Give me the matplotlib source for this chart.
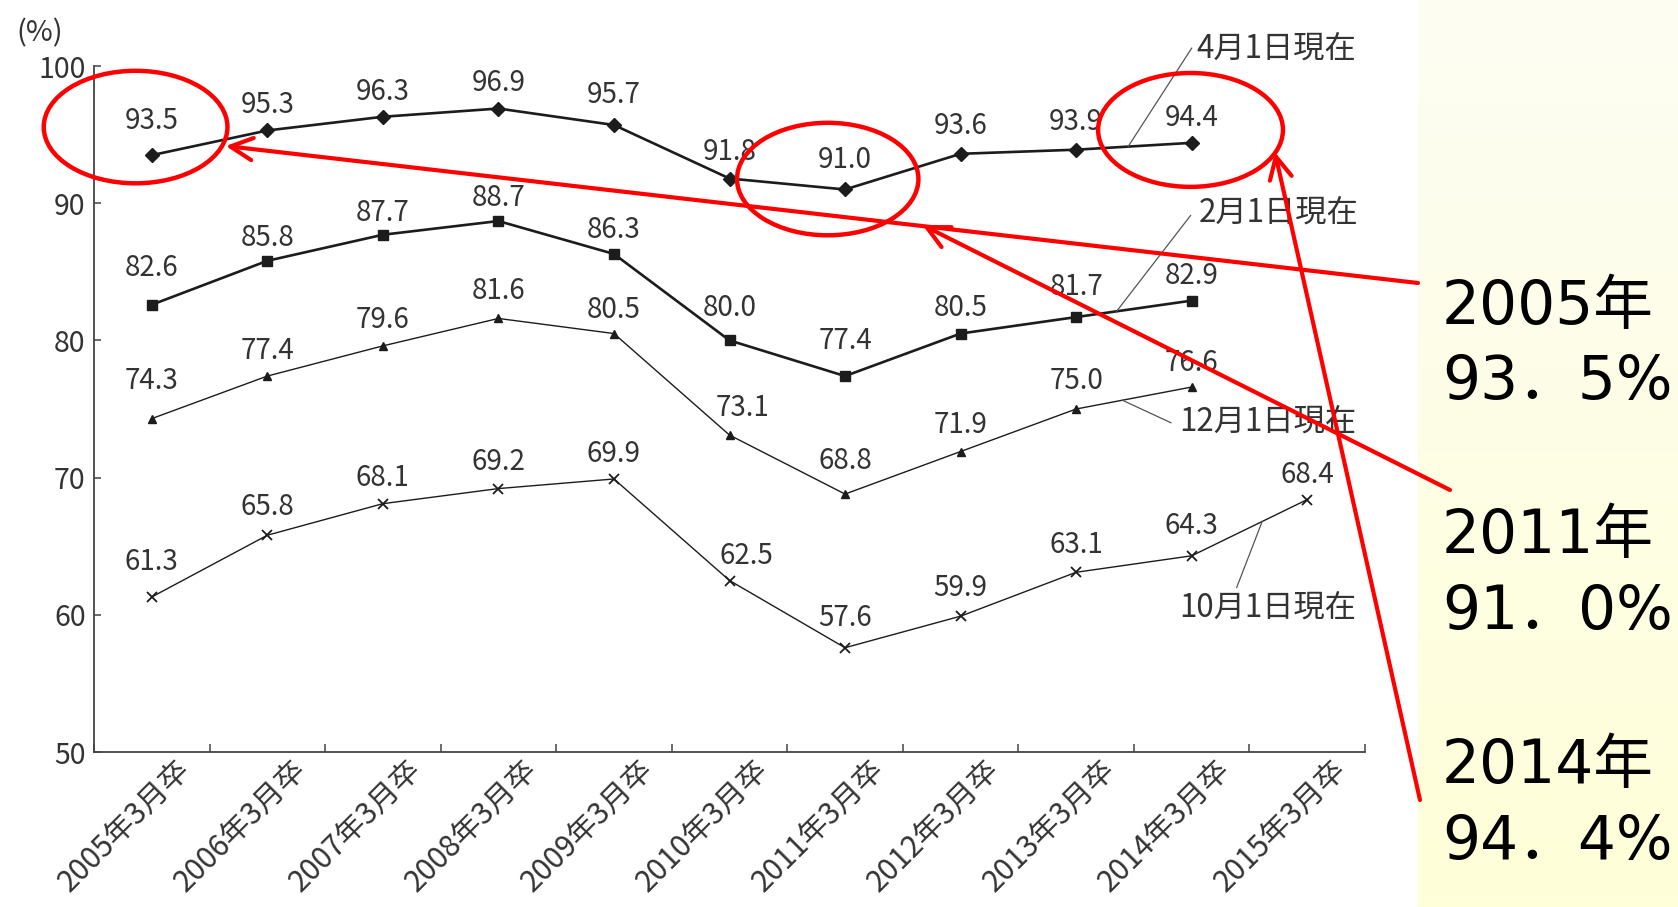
import numpy as np
import matplotlib
matplotlib.use("Agg")
import matplotlib.pyplot as plt
from matplotlib import font_manager
from matplotlib.patches import Ellipse
from matplotlib.transforms import ScaledTranslation

plt.rcParams['font.family'] = ['Noto Sans CJK JP', 'DejaVu Sans']

# ---- data ----
grad_years = ['2005年3月卒', '2006年3月卒', '2007年3月卒', '2008年3月卒',
              '2009年3月卒', '2010年3月卒', '2011年3月卒', '2012年3月卒',
              '2013年3月卒', '2014年3月卒', '2015年3月卒']
rate_apr = [93.5, 95.3, 96.3, 96.9, 95.7, 91.8, 91.0, 93.6, 93.9, 94.4]
rate_feb = [82.6, 85.8, 87.7, 88.7, 86.3, 80.0, 77.4, 80.5, 81.7, 82.9]
rate_dec = [74.3, 77.4, 79.6, 81.6, 80.5, 73.1, 68.8, 71.9, 75.0, 76.6]
rate_oct = [61.3, 65.8, 68.1, 69.2, 69.9, 62.5, 57.6, 59.9, 63.1, 64.3, 68.4]
series_names = ['4月1日現在', '2月1日現在', '12月1日現在', '10月1日現在']
y_ticks = [50, 60, 70, 80, 90, 100]
highlight_idx = [0, 6, 9]          # 2005, 2011, 2014 in the April series
highlight_years = ['2005年', '2011年', '2014年']

# ---- fonts ----
installed = {f.name for f in font_manager.fontManager.ttflist}
narrow_ok = 'Liberation Sans Narrow' in installed
if narrow_ok:
    chart_font = ['Liberation Sans Narrow', 'Noto Sans CJK JP']
    fs_value, fs_xtick, fs_name = 22.5, 23, 24
else:
    chart_font = ['Noto Sans CJK JP', 'DejaVu Sans']
    fs_value, fs_xtick, fs_name = 20, 21.5, 22.5

# ---- styling / placement ----
W, H = 1678, 907
INK = '#1c1c1c'
TXT = '#333333'
RED = '#ff0000'

series = [rate_apr, rate_feb, rate_dec, rate_oct]
styles = [dict(marker='D', ms=7.5, lw=1.9),
          dict(marker='s', ms=6.5, lw=1.9),
          dict(marker='^', ms=5.5, lw=1.0),
          dict(marker='x', ms=7, lw=1.0, mew=1.3)]
# vertical distance (px) of each value label above its point
label_rise = [
    [34, 25, 25, 26, 30, 27, 29, 28, 28, 25],
    [37, 23, 22, 23, 24, 32, 35, 26, 30, 25],
    [38, 25, 26, 27, 24, 27, 33, 27, 28, 24],
    [35, 28, 26, 27, 25, 25, 30, 28, 27, 30, 25],
]
label_shift = {(2, 5): 13, (3, 5): 17}

fig = plt.figure(figsize=(W / 100, H / 100), dpi=100)

# pale yellow panel on the right
pan = fig.add_axes([1418 / W, 0, 1 - 1418 / W, 1], zorder=0)
grad = np.linspace(0, 1, 256)[:, None]
top = np.array([253, 253, 243]) / 255
bot = np.array([255, 255, 216]) / 255
img = top[None, None, :] * (1 - grad[:, :, None]) + bot[None, None, :] * grad[:, :, None]
pan.imshow(img, aspect='auto', extent=[0, 1, 0, 1], origin='upper')
pan.set_axis_off()

ax = fig.add_axes([94 / W, (H - 752) / H, (1365 - 94) / W, (752 - 66) / H], zorder=1)
ax.set_facecolor('none')
ax.set_xlim(-0.5, 10.5)
ax.set_ylim(50, 100)

for vals, st in zip(series, styles):
    x = np.arange(len(vals))
    ax.plot(x, vals, color=INK, mec=INK, mfc=INK, clip_on=False, **st)

# value labels
for s, vals in enumerate(series):
    for i, v in enumerate(vals):
        dx = label_shift.get((s, i), 0)
        ax.annotate(f'{v:.1f}', (i, v), xytext=(dx * 0.72, label_rise[s][i] * 0.72),
                    textcoords='offset points', ha='center', va='center',
                    fontsize=fs_value, color=TXT, family=chart_font,
                    annotation_clip=False)

# axes frame
for side in ['top', 'right']:
    ax.spines[side].set_visible(False)
for side in ['left', 'bottom']:
    ax.spines[side].set_color('#444444')
    ax.spines[side].set_linewidth(1.3)

ax.set_yticks(y_ticks)
ax.set_yticklabels([str(t) for t in y_ticks])
ax.tick_params(axis='y', direction='in', length=5, width=1.1, color='#444444',
               labelsize=20.5, labelcolor=TXT, pad=6)

ax.set_xticks(np.arange(len(grad_years)))
ax.set_xticklabels(grad_years, rotation=45, ha='right', va='top',
                   rotation_mode='anchor', family=chart_font)
ax.set_xticks(np.arange(len(grad_years) + 1) - 0.5, minor=True)
ax.tick_params(axis='x', which='major', length=0, labelsize=fs_xtick,
               labelcolor=TXT, pad=2)
ax.tick_params(axis='x', which='minor', direction='in', length=6, width=1.1,
               color='#444444')
shift = ScaledTranslation(24 / 100, 0, fig.dpi_scale_trans)
for lbl in ax.get_xticklabels():
    lbl.set_transform(lbl.get_transform() + shift)

fig.text(40 / W, 1 - 33 / H, '(%)', ha='center', va='center', fontsize=21, color=TXT)

# series name leaders: (x on the line, end x, end y, text x, text y)
leaders = [
    (8.45, 9.00, 101.3, 9.04, 101.3),
    (8.35, 8.99, 89.1, 9.06, 89.3),
    (8.40, 8.82, 74.0, 8.89, 74.1),
    (9.61, 9.39, 62.0, 8.89, 60.5),
]
for vals, name, (xs, xe, ye, xt, yt) in zip(series, series_names, leaders):
    ys = np.interp(xs, np.arange(len(vals)), vals)
    ax.plot([xs, xe], [ys, ye], color='#555555', lw=0.9, clip_on=False)
    ax.text(xt, yt, name, ha='left', va='center', fontsize=fs_name, color=TXT,
            family=chart_font, clip_on=False)

# red highlight ellipses and arrows
ell_offset = [(-0.14, 2.05, 1.59, 8.2), (-0.15, 0.76, 1.57, 8.2), (-0.01, 0.94, 1.60, 8.3)]
tip_offset = [(0.64, 0.67), (0.67, -2.59), (0.72, -0.67)]
arrow_start = [(1418, H - 283), (1450, H - 490), (1420, H - 800)]
for idx, (ex, ey, ew, eh), (tx, ty), st in zip(highlight_idx, ell_offset, tip_offset, arrow_start):
    v = rate_apr[idx]
    ax.add_patch(Ellipse((idx + ex, v + ey), ew, eh, fill=False, ec=RED, lw=3.2,
                         clip_on=False, zorder=5))
    ax.annotate('', xy=(idx + tx, v + ty), xycoords='data',
                xytext=st, textcoords='figure pixels',
                arrowprops=dict(arrowstyle='->,head_length=0.4,head_width=0.2',
                                color=RED, lw=3.0, shrinkA=0, shrinkB=0,
                                mutation_scale=40),
                annotation_clip=False, zorder=6)

# callout text on the yellow panel
big_font = ['DejaVu Sans', 'Noto Sans CJK JP']
baselines = [(324, 399), (553, 629), (783, 859)]
for idx, yr, (b1, b2) in zip(highlight_idx, highlight_years, baselines):
    pct = f'{rate_apr[idx]:.1f}'.replace('.', '．') + '%'
    fig.text(1442 / W, 1 - b1 / H, yr, ha='left', va='baseline', fontsize=43,
             color='black', family=big_font, zorder=7)
    fig.text(1442 / W, 1 - b2 / H, pct, ha='left', va='baseline', fontsize=43,
             color='black', family=big_font, zorder=7)

fig.savefig('out.png', dpi=100)
